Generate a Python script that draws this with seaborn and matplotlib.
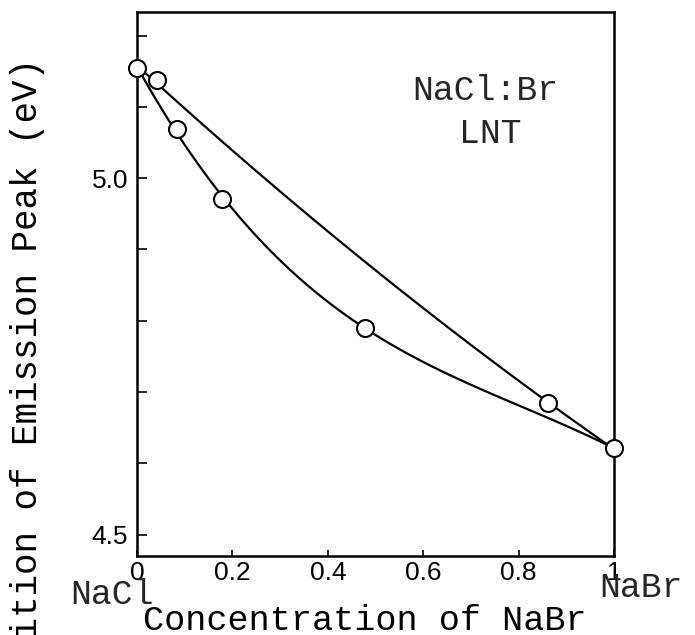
import numpy as np
import pandas as pd
import matplotlib
matplotlib.use("Agg")
import matplotlib.pyplot as plt
import seaborn as sns

# Emission peak position vs NaBr concentration in NaCl:Br at LNT
conc = [0.0, 0.042, 0.084, 0.178, 0.478, 0.862, 1.0]
peak_ev = [5.154, 5.137, 5.069, 4.971, 4.790, 4.684, 4.621]

# the two drawn branches through the measured points
upper_conc = [0.0, 0.042, 0.862, 1.0]
upper_ev = [5.154, 5.137, 4.684, 4.621]
lower_conc = [0.0, 0.084, 0.178, 0.478, 1.0]
lower_ev = [5.154, 5.069, 4.971, 4.790, 4.621]

x_ticks = [0, 0.2, 0.4, 0.6, 0.8, 1.0]
x_ticklabels = ["0", "0.2", "0.4", "0.6", "0.8", "1"]
y_ticks = [4.5, 4.6, 4.7, 4.8, 4.9, 5.0, 5.1, 5.2]
y_ticklabels = ["4.5", "", "", "", "", "5.0", "", ""]

sns.set_theme(style="ticks")
plt.rcParams["font.family"] = ["Liberation Sans", "DejaVu Sans"]
MONO = ["Liberation Mono", "DejaVu Sans Mono"]

W, H = 695, 635
fig = plt.figure(figsize=(W / 100, H / 100), dpi=100)
ax = fig.add_axes([137 / W, 1 - 556 / H, 477 / W, 544 / H])


def ax_pos(px, py):
    """Pixel position in the figure -> axes fraction."""
    return (px - 137) / 477, (556 - py) / 544


points = pd.DataFrame({"conc": conc, "peak": peak_ev})
upper = pd.DataFrame({"conc": upper_conc, "peak": upper_ev})
lower = pd.DataFrame({"conc": lower_conc, "peak": lower_ev})

line_kws = dict(color="black", linewidth=1.6)
sns.regplot(data=upper, x="conc", y="peak", order=2, ci=None, scatter=False,
            truncate=True, line_kws=line_kws, ax=ax)
sns.regplot(data=lower, x="conc", y="peak", order=3, ci=None, scatter=False,
            truncate=True, line_kws=line_kws, ax=ax)
sns.scatterplot(data=points, x="conc", y="peak", s=150, facecolor="white",
                edgecolor="black", linewidth=1.5, zorder=5, ax=ax, clip_on=False)

ax.set_xlim(0, 1)
ax.set_ylim(4.470, 5.233)
ax.set_xticks(x_ticks)
ax.set_xticklabels(x_ticklabels)
ax.set_yticks(y_ticks)
ax.set_yticklabels(y_ticklabels)
ax.tick_params(axis="y", direction="in", length=7, width=1.2, pad=6.5,
               labelsize=19, colors="black")
ax.tick_params(axis="x", direction="in", length=4, width=1.2, pad=3.5,
               labelsize=19, colors="black")
for side in ["top", "right", "bottom", "left"]:
    ax.spines[side].set_visible(True)
    ax.spines[side].set_linewidth(1.8)
    ax.spines[side].set_color("black")

ax.set_xlabel("Concentration of NaBr", family=MONO, fontsize=25.3, color="black")
ax.xaxis.label.set_va("baseline")
ax.xaxis.set_label_coords(*ax_pos(365, 630))

ax.set_ylabel("Position of Emission Peak (eV)", family=MONO, fontsize=25.8,
              color="black")
ax.yaxis.label.set_rotation_mode("anchor")
ax.yaxis.label.set_ha("right")
ax.yaxis.label.set_va("baseline")
ax.yaxis.set_label_coords(*ax_pos(37, 58))

for label, (px, py) in {"NaCl": (112, 604), "NaBr": (641, 597)}.items():
    ax.text(*ax_pos(px, py), label, transform=ax.transAxes, family=MONO,
            fontsize=25, ha="center", va="baseline", clip_on=False)
ax.text(*ax_pos(485, 100), "NaCl:Br", transform=ax.transAxes, family=MONO,
        fontsize=25, ha="center", va="baseline")
ax.text(*ax_pos(490, 143), "LNT", transform=ax.transAxes, family=MONO,
        fontsize=25, ha="center", va="baseline")

fig.savefig("out.png", dpi=100, facecolor="white")
